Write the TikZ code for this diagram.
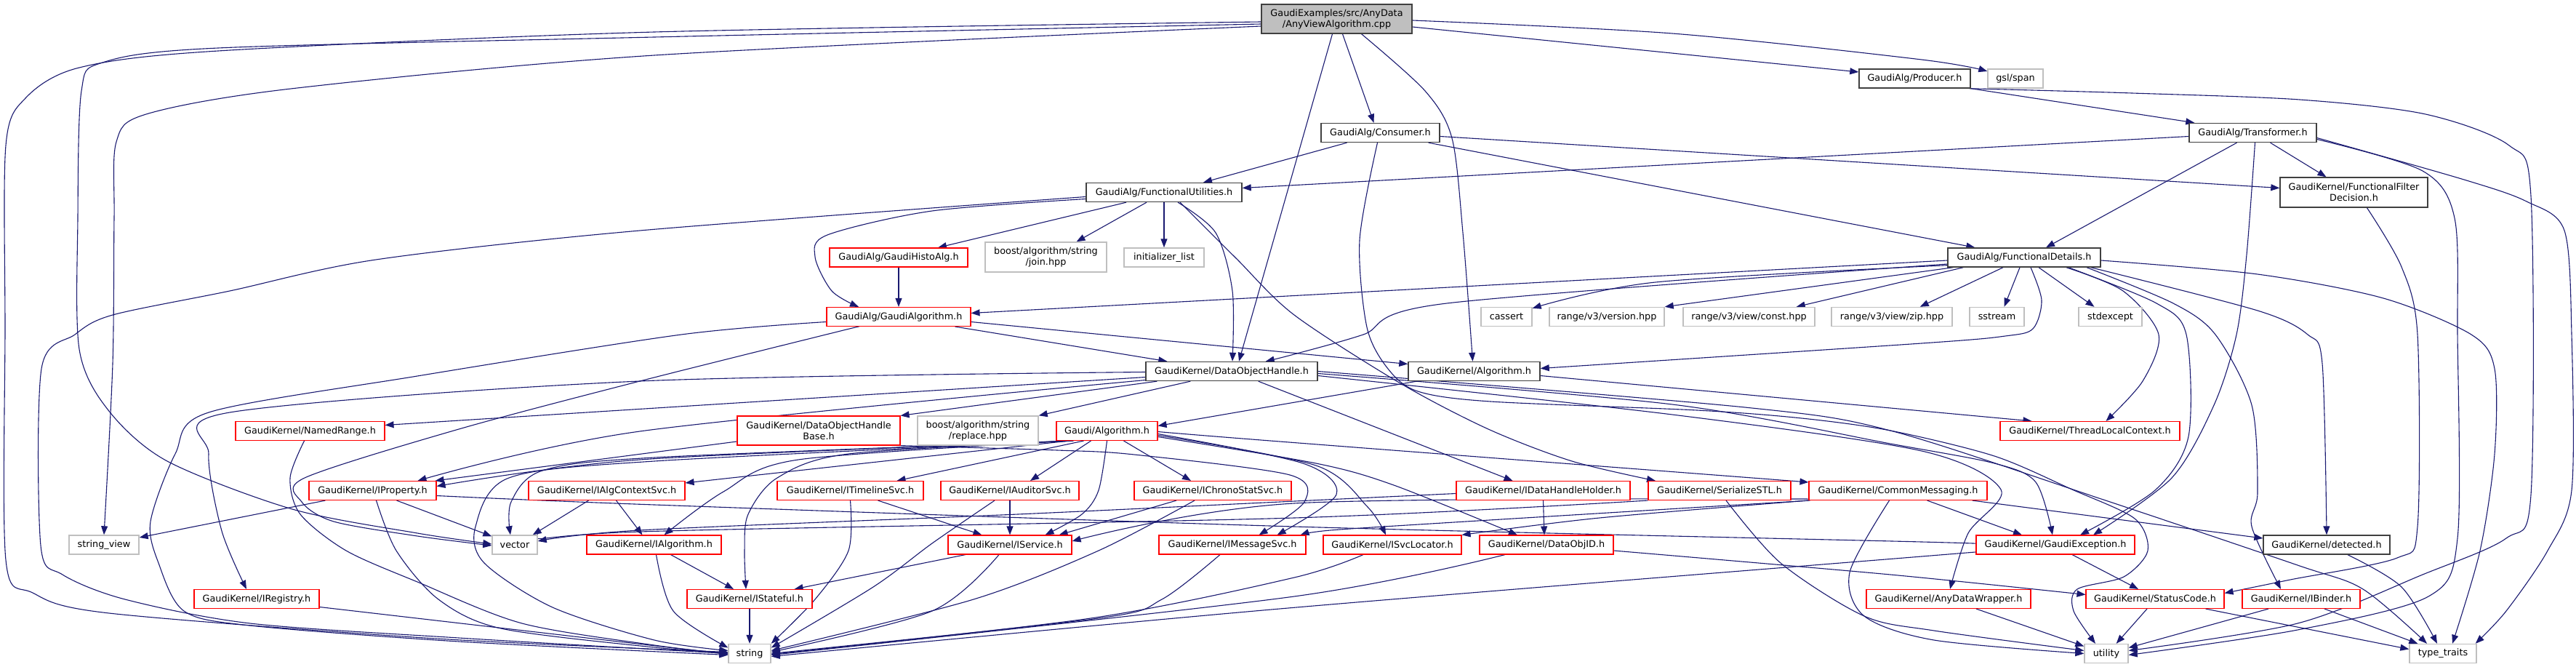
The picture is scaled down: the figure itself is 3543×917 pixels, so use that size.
\documentclass[tikz,border=0pt]{standalone}
\usepackage{fontspec}
\setmainfont{DejaVu Sans}
\usetikzlibrary{arrows.meta,calc,backgrounds}
\definecolor{edgec}{HTML}{191970}
\definecolor{grayc}{HTML}{BFBFBF}
\definecolor{blk}{HTML}{404040}
\definecolor{mainfill}{HTML}{BFBFBF}
\newcommand\nfont{\fontsize{12.8}{15}\selectfont}
\newcommand\sm[1]{\draw[edg] plot[smooth,tension=0.5] coordinates {#1};}
\tikzset{
  box/.style={draw, line width=1.1pt, inner sep=0pt, minimum height=26pt, align=center, font=\nfont, fill=white},
  rbox/.style={box, draw=red},
  sbox/.style={box, draw=grayc, line width=1.4pt},
  nbox/.style={box, draw=blk, line width=1.4pt},
  mbox/.style={box, draw=blk, line width=1.4pt, fill=mainfill},
  edg/.style={draw=edgec, line width=1.1pt, -{Triangle[length=12pt,width=9pt]}}
}
\begin{document}
\begin{tikzpicture}[x=1pt,y=-1pt]
\useasboundingbox (0,0) rectangle (3543,917);
% nodes
\node[mbox,minimum width=207pt,minimum height=40pt] (main) at (1838.5,26) {GaudiExamples/src/AnyData\\/AnyViewAlgorithm.cpp};
\node[nbox,minimum width=153pt] (prod) at (2633.5,108) {GaudiAlg/Producer.h};
\node[sbox,minimum width=76pt] (gsl) at (2772,108) {gsl/span};
\node[nbox,minimum width=163pt] (cons) at (1898.5,182.5) {GaudiAlg/Consumer.h};
\node[nbox,minimum width=175pt] (trans) at (3098.5,182.5) {GaudiAlg/Transformer.h};
\node[nbox,minimum width=214pt] (fu) at (1601,264.5) {GaudiAlg/FunctionalUtilities.h};
\node[nbox,minimum width=203pt,minimum height=41pt] (ffd) at (3237.5,264.5) {GaudiKernel/FunctionalFilter\\Decision.h};
\node[rbox,minimum width=190pt] (gha) at (1236,354) {GaudiAlg/GaudiHistoAlg.h};
\node[sbox,minimum width=167pt,minimum height=41pt] (bjoin) at (1438.5,353.5) {boost/algorithm/string\\/join.hpp};
\node[sbox,minimum width=110pt] (initl) at (1601,354) {initializer\_list};
\node[nbox,minimum width=210pt] (fd) at (2784,354) {GaudiAlg/FunctionalDetails.h};
\node[rbox,minimum width=198pt] (ga) at (1236,435.5) {GaudiAlg/GaudiAlgorithm.h};
\node[sbox,minimum width=70pt] (cassert) at (2072,435.5) {cassert};
\node[sbox,minimum width=158pt] (rver) at (2210,435.5) {range/v3/version.hpp};
\node[sbox,minimum width=181pt] (rconst) at (2405.5,435.5) {range/v3/view/const.hpp};
\node[sbox,minimum width=166pt] (rzip) at (2602,435.5) {range/v3/view/zip.hpp};
\node[sbox,minimum width=75pt] (sstream) at (2746.5,435.5) {sstream};
\node[sbox,minimum width=87pt] (stdexc) at (2902.5,435.5) {stdexcept};
\node[nbox,minimum width=236pt] (doh) at (1694,510.5) {GaudiKernel/DataObjectHandle.h};
\node[nbox,minimum width=181pt] (kalg) at (2027.5,510.5) {GaudiKernel/Algorithm.h};
\node[rbox,minimum width=205pt] (named) at (426.5,592.5) {GaudiKernel/NamedRange.h};
\node[rbox,minimum width=224pt,minimum height=40pt] (dohb) at (1126,592) {GaudiKernel/DataObjectHandle\\Base.h};
\node[sbox,minimum width=166pt,minimum height=40pt] (brepl) at (1345,592) {boost/algorithm/string\\/replace.hpp};
\node[rbox,minimum width=139pt] (galg) at (1522.5,592.5) {Gaudi/Algorithm.h};
\node[rbox,minimum width=247pt] (tlc) at (2874.5,592.5) {GaudiKernel/ThreadLocalContext.h};
\node[rbox,minimum width=175pt] (iprop) at (512.5,674.5) {GaudiKernel/IProperty.h};
\node[rbox,minimum width=215pt] (iacs) at (834.5,674.5) {GaudiKernel/IAlgContextSvc.h};
\node[rbox,minimum width=201pt] (itl) at (1169.5,674.5) {GaudiKernel/ITimelineSvc.h};
\node[rbox,minimum width=190pt] (iaud) at (1389,674.5) {GaudiKernel/IAuditorSvc.h};
\node[rbox,minimum width=216pt] (ichr) at (1668,674.5) {GaudiKernel/IChronoStatSvc.h};
\node[rbox,minimum width=239pt] (idhh) at (2122.5,674.5) {GaudiKernel/IDataHandleHolder.h};
\node[rbox,minimum width=196pt] (sstl) at (2365,674.5) {GaudiKernel/SerializeSTL.h};
\node[rbox,minimum width=245pt] (cmsg) at (2610.5,674.5) {GaudiKernel/CommonMessaging.h};
\node[sbox,minimum width=96pt] (sview) at (143,749) {string\_view};
\node[sbox,minimum width=62pt] (vector) at (708,749) {vector};
\node[rbox,minimum width=185pt] (ialg) at (899.5,749) {GaudiKernel/IAlgorithm.h};
\node[rbox,minimum width=170pt] (isvc) at (1389,749) {GaudiKernel/IService.h};
\node[rbox,minimum width=202pt] (imsg) at (1695,749) {GaudiKernel/IMessageSvc.h};
\node[rbox,minimum width=190pt] (isl) at (1915,749) {GaudiKernel/ISvcLocator.h};
\node[rbox,minimum width=184pt] (doid) at (2127,749) {GaudiKernel/DataObjID.h};
\node[rbox,minimum width=218pt] (gexc) at (2827,749) {GaudiKernel/GaudiException.h};
\node[nbox,minimum width=174pt] (detected) at (3200,749) {GaudiKernel/detected.h};
\node[rbox,minimum width=172pt] (ireg) at (353,823.5) {GaudiKernel/IRegistry.h};
\node[rbox,minimum width=172pt] (istate) at (1031,823.5) {GaudiKernel/IStateful.h};
\node[rbox,minimum width=226pt] (adw) at (2680,823.5) {GaudiKernel/AnyDataWrapper.h};
\node[rbox,minimum width=190pt] (sc) at (2964,823.5) {GaudiKernel/StatusCode.h};
\node[rbox,minimum width=162pt] (ibind) at (3165,823.5) {GaudiKernel/IBinder.h};
\node[sbox,minimum width=58pt] (string) at (1031,898.5) {string};
\node[sbox,minimum width=60pt] (utility) at (2897,898.5) {utility};
\node[sbox,minimum width=92pt] (ttraits) at (3360,898.5) {type\_traits};
% edges
\begin{scope}[on background layer]
% main
\sm{($(main.west)+(0,4)$) (900,44) (300,70) (109,93) (35,135) (8,200) (7,450) (8,770) (45,815) (150,843) (600,878) ($(string.west)+(0,-2)$)}
\sm{($(main.west)+(0,7)$) (900,51) (300,66) (141,86) (112,125) (107,300) (109,480) (149,564) (230,634) (402,700) (574,733) ($(vector.west)+(0,-1)$)}
\sm{($(main.west)+(0,10)$) (900,76) (400,122) (201,157) (160,195) (157,300) (155,500) (sview.north)}
\draw[edg] ($(main.south)+(-6,0)$) -- ($(doh.north)+(10,0)$);
\draw[edg] ($(main.south)+(8,0)$) -- ($(cons.north)+(-9,0)$);
\sm{($(main.south)+(34,0)$) (1960,125) (1997,190) (2012,320) ($(kalg.north)+(-2,0)$)}
\draw[edg] ($(main.east)+(0,11)$) -- ($(prod.west)+(0,-9)$);
\sm{($(main.east)+(0,2)$) (2300,46) (2643,82) ($(gsl.west)+(0,-10)$)}
% producer
\draw[edg] (prod.south east) -- ($(trans.north west)+(8,0)$);
\sm{($(prod.south east)+(-2,0)$) (2932,128) (3163,137) (3336,157) (3451,200) (3481,270) (3481,680) (3447,740) (3332,790) (3160,857) ($(utility.east)+(0,-4)$)}
% transformer
\draw[edg] ($(trans.west)+(0,5)$) -- ($(fu.east)+(0,-6)$);
\draw[edg] ($(trans.south)+(-22,0)$) -- ($(fd.north)+(30,0)$);
\draw[edg] ($(trans.south)+(24,0)$) -- ($(ffd.north)+(-38,0)$);
\sm{($(trans.south)+(3,0)$) (3090,350) (3076,460) (3045,557) (2987,657) ($(gexc.north)+(52,0)$)}
\sm{($(trans.east)+(0,9)$) (3332,235) (3376,300) (3380,460) (3380,740) (3340,820) (3160,866) ($(utility.east)+(0,2)$)}
\sm{($(trans.east)+(0,7)$) (3389,247) (3475,277) (3527,317) (3537,460) (3537,674) (3504,757) (3447,840) ($(ttraits.north east)+(-2,0)$)}
% consumer
\draw[edg] ($(cons.south)+(-46,0)$) -- ($(fu.north)+(54,0)$);
\draw[edg] ($(cons.east)+(0,5)$) -- ($(ffd.west)+(0,-6)$);
\draw[edg] ($(cons.south east)+(-16,0)$) -- ($(fd.north west)+(38,0)$);
\sm{($(cons.south)+(-4,0)$) (1870,330) (1880,450) (1909,507) (1950,538) (2050,552) (2334,564) (2478,575) (2600,592) (2743,627) (2850,673) (2936,713) (2954,757) (2921,793) (2857,810) (2852,840) ($(utility.north)+(-15,0)$)}
% functional utilities
\sm{($(fu.west)+(0,6)$) (880,317) (517,357) (316,400) (155,433) (103,460) (57,507) (56,750) (86,790) (172,824) (344,857) (631,877) (string.west)}
\sm{($(fu.west)+(0,9)$) (1282,290) (1138,323) (1121,353) (1144,400) ($(ga.north)+(-55,0)$)}
\draw[edg] ($(fu.south)+(-52,0)$) -- ($(gha.north)+(54,0)$);
\draw[edg] ($(fu.south)+(-24,0)$) -- ($(bjoin.north)+(42,0)$);
\draw[edg] (fu.south) -- (initl.north);
\sm{($(fu.south)+(19,0)$) (1672,320) (1695,400) ($(doh.north)+(1,0)$)}
\sm{($(fu.south)+(22,0)$) (1700,355) (1780,433) (1926,527) (2047,590) (2162,634) ($(sstl.north)+(-88,0)$)}
% filter decision
\sm{($(ffd.south)+(18,0)$) (3303,367) (3325,460) (3325,724) (3297,767) (3150,797) ($(sc.east)+(0,-8)$)}
% histo alg
\draw[edg] (gha.south) -- (ga.north);
% gaudi algorithm
\draw[edg] ($(ga.south east)+(-22,0)$) -- ($(doh.north west)+(30,0)$);
\draw[edg] ($(ga.east)+(0,7)$) -- ($(kalg.west)+(0,-10)$);
\sm{($(ga.west)+(0,7)$) (937,460) (574,517) (287,567) (241,624) (207,717) (218,774) (253,840) (344,860) (631,882) ($(string.west)+(0,2)$)}
\sm{($(ga.south)+(-55,0)$) (1144,458) (880,524) (631,590) (419,657) (415,690) (459,717) (574,737) ($(vector.west)+(0,1)$)}
% functional details
\draw[edg] ($(fd.west)+(0,4)$) -- ($(ga.east)+(0,-5)$);
\sm{($(fd.west)+(0,9)$) (1990,417) (1875,460) (1780,487) ($(doh.north east)+(-72,0)$)}
\sm{($(fd.south west)+(0,-3)$) (2277,388) ($(cassert.north east)+(0,2)$)}
\draw[edg] ($(fd.south west)+(8,0)$) -- (rver.north east);
\draw[edg] ($(fd.south west)+(22,0)$) -- ($(rconst.north east)+(-26,0)$);
\draw[edg] ($(fd.south)+(-29,0)$) -- ($(rzip.north east)+(-45,0)$);
\draw[edg] ($(fd.south)+(-6,0)$) -- ($(sstream.north)+(10,0)$);
\draw[edg] ($(fd.south)+(20,0)$) -- ($(stdexc.north)+(-22,0)$);
\sm{($(fd.south)+(9,0)$) (2808,413) (2796,452) (2758,462) (2643,472) ($(kalg.east)+(0,-4)$)}
\sm{($(fd.south)+(58,0)$) (2920,400) (2969,460) (2947,524) ($(tlc.north)+(22,0)$)}
\sm{($(fd.south)+(61,0)$) (2966,417) (3007,460) (3010,600) (2964,674) ($(gexc.north)+(34,0)$)}
\sm{($(fd.south)+(86,0)$) (2989,417) (3047,460) (3097,557) (3105,677) (3097,724) ($(ibind.north)+(-28,0)$)}
\sm{($(fd.south east)+(-14,0)$) (3105,427) (3174,460) (3194,500) (detected.north)}
\sm{($(fd.east)+(0,4)$) (3105,377) (3278,410) (3399,460) (3431,507) (3431,624) (3411,757) ($(ttraits.north)+(13,0)$)}
% data object handle
\draw[edg] ($(doh.south west)+(16,0)$) -- (dohb.north east);
\draw[edg] ($(doh.south west)+(62,0)$) -- (brepl.north east);
\draw[edg] ($(doh.west)+(0,8)$) -- ($(named.east)+(0,-8)$);
\sm{($(doh.west)+(0,1)$) (880,524) (316,567) (287,624) (305,730) ($(ireg.north)+(-14,0)$)}
\sm{($(doh.west)+(0,12)$) (880,593) ($(iprop.north)+(62,0)$)}
\draw[edg] ($(doh.south east)+(-82,0)$) -- ($(idhh.north)+(-42,0)$);
\sm{($(doh.east)+(0,3)$) (2300,556) (2600,610) (2743,637) (2800,663) ($(gexc.north)+(-4,0)$)}
\sm{($(doh.east)+(0,6)$) (2300,570) (2643,620) (2752,673) (2707,733) ($(adw.north)+(2,0)$)}
\sm{(doh.east) (2400,560) (2600,592) (2893,687) (3160,777) (3250,810) ($(ttraits.north)+(-22,0)$)}
% GaudiKernel/Algorithm
\draw[edg] ($(kalg.south west)+(12,0)$) -- ($(galg.east)+(0,-7)$);
\draw[edg] ($(kalg.east)+(0,6)$) -- ($(tlc.north west)+(44,0)$);
% Gaudi/Algorithm
\sm{($(galg.south west)+(24,0)$) (880,632) ($(iprop.east)+(0,-6)$)}
\draw[edg] ($(galg.south west)+(18,0)$) -- ($(iacs.north east)+(0,3)$);
\sm{($(galg.south west)+(20,0)$) (1098,632) (995,676) ($(ialg.north)+(14,0)$)}
\sm{($(galg.south west)+(24,0)$) (1167,624) (1069,657) (1029,707) (1024,757) ($(istate.north)+(-5,0)$)}
\sm{($(galg.south west)+(22,0)$) (900,634) (700,657) (654,724) (666,774) (760,835) (900,880) ($(string.west)+(0,-4)$)}
\sm{($(galg.south west)+(20,0)$) (900,629) (746,647) (703,690) ($(vector.north)+(-6,0)$)}
\draw[edg] ($(galg.south west)+(38,0)$) -- ($(itl.north)+(64,0)$);
\draw[edg] ($(galg.south)+(-22,0)$) -- ($(iaud.north)+(28,0)$);
\sm{(galg.south) (1511,674) (1488,707) ($(isvc.north east)+(-37,0)$)}
\draw[edg] ($(galg.south)+(23,0)$) -- ($(ichr.north)+(-30,0)$);
\sm{($(galg.east)+(0,4)$) (1792,637) (1838,680) ($(imsg.north east)+(-40,0)$)}
\sm{($(galg.east)+(0,6)$) (1810,640) (1881,697) ($(isl.north)+(-9,0)$)}
\sm{($(galg.east)+(0,8)$) (1810,637) (1917,667) ($(doid.north)+(-40,0)$)}
\sm{($(galg.east)+(0,1)$) (1760,607) ($(cmsg.north west)+(0,2)$)}
% DataObjectHandleBase
\draw[edg] ($(dohb.west)+(0,15)$) -- ($(iprop.north east)+(-2,0)$);
\sm{($(dohb.south east)+(-2,0)$) (1454,619) (1560,625) (1774,653) (1794,690) ($(imsg.north east)+(-65,0)$)}
% IProperty
\draw[edg] ($(iprop.south west)+(23,0)$) -- ($(sview.east)+(0,-10)$);
\draw[edg] ($(iprop.south)+(33,0)$) -- ($(vector.north west)+(0,2)$);
\sm{($(iprop.south)+(5,0)$) (545,757) (603,824) (689,864) (900,890) ($(string.west)+(0,-1)$)}
\sm{($(iprop.east)+(0,7)$) (900,694) (1780,724) (2643,745) ($(gexc.west)+(0,-1)$)}
% NamedRange, IRegistry
\sm{($(named.south)+(-8,0)$) (399,657) (413,707) (476,757) (574,800) (718,857) (900,887) (string.west)}
\draw[edg] ($(ireg.east)+(0,11)$) -- ($(string.west)+(0,1)$);
% IAlgContextSvc, IAlgorithm, IStateful
\draw[edg] ($(iacs.south)+(-25,0)$) -- ($(vector.north east)+(-7,0)$);
\draw[edg] ($(iacs.south)+(13,0)$) -- ($(ialg.north)+(-16,0)$);
\draw[edg] ($(ialg.south)+(23,0)$) -- ($(istate.north)+(-22,0)$);
\sm{($(ialg.south)+(3,0)$) (926,840) ($(string.west)+(0,-8)$)}
\draw[edg] (istate.south) -- (string.north);
% services
\draw[edg] ($(itl.south)+(38,0)$) -- ($(isvc.north west)+(47,0)$);
\sm{(itl.south) (1167,757) (1121,824) (string.north east)}
\draw[edg] (iaud.south) -- (isvc.north);
\sm{($(iaud.south)+(-21,0)$) (1282,747) (1201,807) ($(string.east)+(0,-8)$)}
\draw[edg] ($(ichr.south)+(-50,0)$) -- ($(isvc.north east)+(-18,0)$);
\sm{($(ichr.south)+(-25,0)$) (1511,757) (1339,824) ($(string.east)+(0,-4)$)}
\draw[edg] ($(isvc.south)+(-61,0)$) -- ($(istate.north east)+(-25,0)$);
\sm{($(isvc.south)+(-15,0)$) (1282,840) ($(string.east)+(0,-2)$)}
\sm{($(imsg.south)+(-17,0)$) (1598,824) (1511,850) (string.east)}
\sm{($(isl.south)+(-40,0)$) (1780,794) (1500,850) ($(string.east)+(0,1)$)}
\sm{($(doid.south)+(-57,0)$) (1780,820) ($(string.east)+(0,2)$)}
\sm{($(gexc.west)+(0,10)$) (2643,765) (1760,837) ($(string.east)+(0,4)$)}
\sm{($(doid.east)+(0,8)$) (2600,790) ($(sc.west)+(0,-6)$)}
% lower right
\draw[edg] ($(gexc.south)+(23,0)$) -- ($(sc.north)+(-23,0)$);
\draw[edg] ($(sc.south)+(-11,0)$) -- ($(utility.north east)+(-17,0)$);
\draw[edg] ($(sc.south east)+(-26,0)$) -- ($(ttraits.west)+(0,-6)$);
\draw[edg] ($(ibind.south)+(-45,0)$) -- ($(utility.east)+(0,-8)$);
\draw[edg] ($(ibind.south)+(32,0)$) -- ($(ttraits.north west)+(12,0)$);
\sm{($(detected.south)+(29,0)$) (3303,807) ($(ttraits.north)+(-8,0)$)}
\draw[edg] ($(adw.south)+(38,0)$) -- ($(utility.west)+(0,-10)$);
% SerializeSTL, CommonMessaging, IDataHandleHolder
\sm{($(sstl.south)+(9,0)$) (2449,774) (2564,847) (2660,867) ($(utility.west)+(0,-4)$)}
\sm{($(sstl.south west)+(0,0)$) (1780,712) (880,731) ($(vector.east)+(0,-2)$)}
\sm{($(cmsg.south)+(-12,0)$) (2544,787) (2564,847) (2660,880) (utility.west)}
\draw[edg] ($(cmsg.south east)+(-83,0)$) -- ($(gexc.north)+(-46,0)$);
\draw[edg] ($(cmsg.south east)+(-21,0)$) -- ($(detected.west)+(0,-9)$);
\sm{($(cmsg.south west)+(0,-2)$) (1780,692) ($(isvc.east)+(0,-5)$)}
\sm{(cmsg.south west) (2200,712) (isl.north east)}
\sm{($(cmsg.south west)+(2,0)$) (2000,718) (1830,729) ($(imsg.north east)+(-8,0)$)}
\sm{($(idhh.west)+(0,4)$) (1760,690) (1400,707) (880,729) ($(vector.east)+(0,-5)$)}
\draw[edg] (idhh.south) -- ($(doid.north)+(-3,0)$);
\end{scope}
\end{tikzpicture}
\end{document}
